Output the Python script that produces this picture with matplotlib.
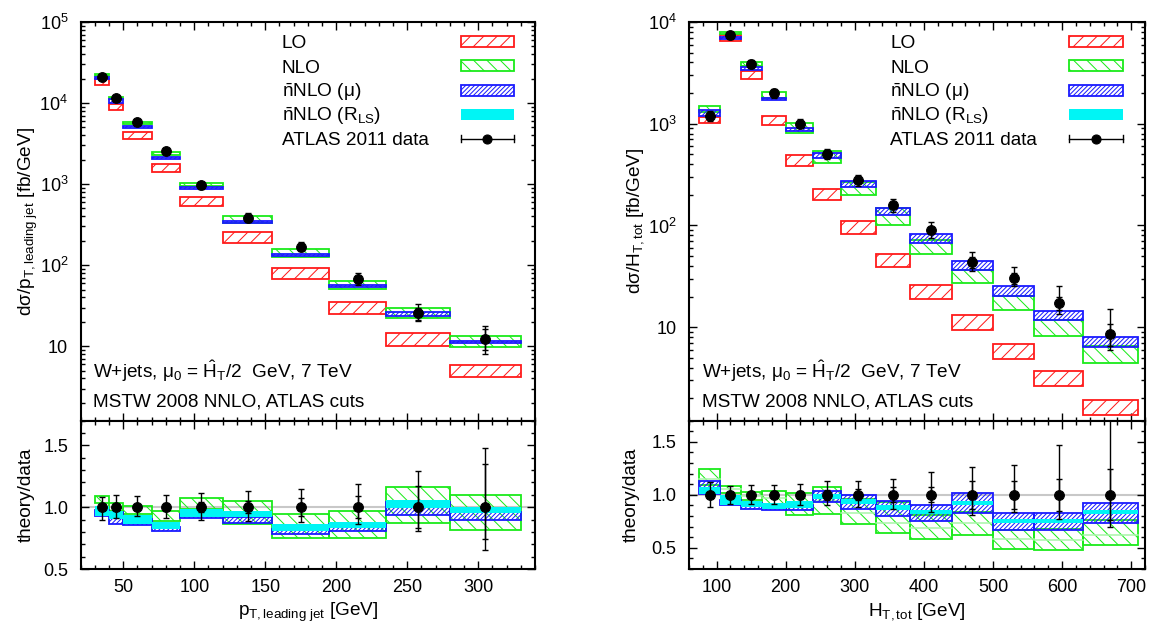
import numpy as np
import matplotlib
matplotlib.use('Agg')
import matplotlib.pyplot as plt
from matplotlib.patches import Rectangle
from matplotlib.ticker import MultipleLocator, FixedLocator, FixedFormatter, NullFormatter, LogLocator

DPI = 80
P = 100.0 / DPI  # keeps pixel sizes as designed at 100 dpi

plt.rcParams['font.family'] = ['Liberation Sans', 'DejaVu Sans']
plt.rcParams['mathtext.fontset'] = 'custom'
plt.rcParams['mathtext.rm'] = 'Liberation Sans'
plt.rcParams['mathtext.it'] = 'Liberation Sans:italic'
plt.rcParams['mathtext.bf'] = 'Liberation Sans:bold'
plt.rcParams['hatch.linewidth'] = 0.9

# ---------------- Left: leading jet pT ----------------
pt_edges = [30, 40, 50, 70, 90, 120, 155, 195, 235, 280, 330]
pt_data = [21100, 11600, 5800, 2550, 964, 384, 168, 66.5, 25.3, 12.1]
pt_err_hi = [0.08, 0.095, 0.086, 0.10, 0.116, 0.13, 0.15, 0.19, 0.295, 0.48]
pt_err_lo = [0.10, 0.086, 0.073, 0.084, 0.10, 0.116, 0.12, 0.14, 0.195, 0.26]
pt_stat = [0.02, 0.025, 0.025, 0.03, 0.04, 0.05, 0.07, 0.09, 0.17, 0.345]
pt_lo_low = [16550, 8260, 3630, 1394, 540, 189, 66.5, 24.8, 10.1, 4.11]
pt_lo_high = [19800, 9800, 4420, 1766, 698, 253, 91, 34.9, 14.4, 5.94]
pt_nlo_low = [1.03, 0.97, 0.943, 0.89, 0.986, 0.865, 0.75, 0.754, 0.87, 0.816]
pt_nlo_high = [1.09, 1.035, 1.013, 0.968, 1.076, 1.046, 0.943, 0.968, 1.162, 1.10]
pt_mu_low = [0.93, 0.865, 0.857, 0.805, 0.914, 0.87, 0.78, 0.81, 0.94, 0.897]
pt_mu_high = [0.98, 0.96, 0.905, 0.84, 0.946, 0.92, 0.825, 0.865, 1.04, 0.96]
pt_rls_low = [0.93, 0.905, 0.865, 0.82, 0.92, 0.92, 0.81, 0.83, 0.99, 0.95]
pt_rls_high = [1.01, 0.97, 0.94, 0.88, 0.986, 0.97, 0.865, 0.88, 1.06, 1.0]

# ---------------- Right: HT,tot ----------------
ht_edges = [75, 105, 135, 165, 200, 240, 280, 330, 380, 440, 500, 560, 630, 710]
ht_data = [1200, 7450, 3900, 1990, 1000, 500, 277, 158, 90, 43.6, 30.4, 17.4, 8.6]
ht_err_hi = [0.12, 0.079, 0.088, 0.094, 0.104, 0.129, 0.132, 0.15, 0.21, 0.264, 0.283, 0.465, 0.75]
ht_err_lo = [0.116, 0.088, 0.091, 0.091, 0.10, 0.10, 0.116, 0.132, 0.164, 0.189, 0.164, 0.226, 0.30]
ht_stat = [0.03, 0.03, 0.03, 0.035, 0.04, 0.045, 0.05, 0.07, 0.07, 0.13, 0.13, 0.15, 0.24]
ht_lo_low = [1016, 6500, 2750, 980, 387, 177, 83, 39, 19.1, 9.45, 4.9, 2.62, 1.36]
ht_lo_high = [1164, 7520, 3275, 1190, 489, 230, 110, 52, 26.2, 13.1, 6.88, 3.67, 1.94]
ht_nlo_low = [1.088, 1.02, 0.947, 0.906, 0.805, 0.814, 0.726, 0.64, 0.585, 0.623, 0.49, 0.475, 0.522]
ht_nlo_high = [1.245, 1.079, 1.03, 1.038, 1.019, 1.072, 0.956, 0.93, 0.805, 0.836, 0.664, 0.68, 0.758]
ht_nlo_cen = [1.15, 1.05, 0.99, 0.97, 0.91, 0.94, 0.83, 0.736, 0.69, 0.736, 0.585, 0.57, 0.616]
ht_mu_low = [1.003, 0.906, 0.868, 0.855, 0.852, 0.93, 0.865, 0.80, 0.755, 0.83, 0.67, 0.67, 0.736]
ht_mu_high = [1.126, 0.946, 0.925, 0.906, 0.90, 1.031, 0.994, 0.937, 0.906, 1.019, 0.827, 0.827, 0.925]
ht_rls_low = [1.01, 0.906, 0.884, 0.868, 0.874, 0.962, 0.915, 0.852, 0.815, 0.906, 0.736, 0.736, 0.815]
ht_rls_high = [1.07, 1.0, 0.937, 0.925, 0.937, 1.006, 0.962, 0.90, 0.852, 0.937, 0.767, 0.767, 0.852]

legend_labels = ['LO', 'NLO', r'$\bar{\mathrm{n}}$NLO (μ)',
                 r'$\bar{\mathrm{n}}$NLO (R$_{\mathrm{LS}}$)', 'ATLAS 2011 data']
info1 = r'W+jets, μ$_0$ = $\hat{\mathrm{H}}_{\mathrm{T}}$/2  GeV, 7 TeV'
info2 = 'MSTW 2008 NNLO, ATLAS cuts'

RED = '#ff1a1a'
GREEN = '#1aeb1a'
BLUE = '#1a1aff'
CYAN = '#00f5f5'
H_LO, H_NLO, H_MU = '//', '\\\\', '//////'
FS_TICK = 13 * P
FS = 13.7 * P
LW = 1.3 * P
MS = 7 * P

W, H = 1151, 628
fig = plt.figure(figsize=(W / DPI, H / DPI), dpi=DPI)


def fx(px):
    return px / W


def fy(py):
    return 1 - py / H


def make_axes(x0, x1):
    ax_top = fig.add_axes([fx(x0), fy(420.5), fx(x1 - x0), (420.5 - 22) / H])
    ax_bot = fig.add_axes([fx(x0), fy(569), fx(x1 - x0), (569 - 420.5) / H])
    for a in (ax_top, ax_bot):
        for s in a.spines.values():
            s.set_linewidth(1.5 * P)
        a.tick_params(which='both', direction='in', top=True, right=True,
                      labelsize=FS_TICK, width=1.0 * P)
        a.tick_params(which='major', length=5.5 * P)
        a.tick_params(which='minor', length=3 * P)
        a.tick_params(axis='y', pad=9 * P)
        a.tick_params(axis='x', pad=7 * P)
    return ax_top, ax_bot


def boxes(ax, edges, low, high, **kw):
    e = np.asarray(edges, float)
    low = np.asarray(low, float)
    high = np.asarray(high, float)
    ax.bar(e[:-1], high - low, width=np.diff(e), bottom=low, align='edge', **kw)


def draw_panel(ax_top, ax_bot, edges, data, ehi, elo, stat, lo_low, lo_high,
               nlo_low, nlo_high, mu_low, mu_high, rls_low, rls_high, nlo_cen=None):
    e = np.asarray(edges, float)
    xc = 0.5 * (e[:-1] + e[1:])
    d = np.asarray(data, float)
    ehi = np.asarray(ehi); elo = np.asarray(elo); st = np.asarray(stat)
    eb = dict(elinewidth=1 * P, capsize=2.5 * P, capthick=1 * P, zorder=10)
    # top
    boxes(ax_top, edges, lo_low, lo_high, facecolor='none', edgecolor=RED,
          hatch=H_LO, linewidth=LW, zorder=2)
    boxes(ax_top, edges, d * np.asarray(nlo_low), d * np.asarray(nlo_high),
          facecolor='none', edgecolor=GREEN, hatch=H_NLO, linewidth=LW, zorder=3)
    boxes(ax_top, edges, d * np.asarray(mu_low), d * np.asarray(mu_high),
          facecolor='none', edgecolor=BLUE, hatch=H_MU, linewidth=LW, zorder=4)
    ax_top.errorbar(xc, d, yerr=[d * elo, d * ehi], fmt='o', color='k', ms=MS, **eb)
    ax_top.errorbar(xc, d, yerr=d * st, fmt='none', ecolor='k', **eb)
    # bottom
    ax_bot.axhline(1.0, color='#c8c8c8', lw=1.5 * P, zorder=1)
    boxes(ax_bot, edges, nlo_low, nlo_high, facecolor='none', edgecolor=GREEN,
          hatch=H_NLO, linewidth=LW, zorder=2)
    if nlo_cen is not None:
        for i in range(len(xc)):
            ax_bot.plot([e[i], e[i + 1]], [nlo_cen[i]] * 2, color='#a8f5a8',
                        lw=1.1 * P, zorder=2.5)
    boxes(ax_bot, edges, mu_low, mu_high, facecolor='none', edgecolor=BLUE,
          hatch=H_MU, linewidth=LW, zorder=3)
    boxes(ax_bot, edges, rls_low, rls_high, facecolor=CYAN, edgecolor='none',
          linewidth=0, zorder=4)
    ones = np.ones_like(d)
    ax_bot.errorbar(xc, ones, yerr=[elo, ehi], fmt='o', color='k', ms=MS, **eb)
    ax_bot.errorbar(xc, ones, yerr=st, fmt='none', ecolor='k', **eb)


def legend(ax, xtext, xb0, xb1, x0px, widthpx):
    rows = [41.7 + 24.2 * i for i in range(5)]
    ha = 398.5
    def ay(py):
        return 1 - (py - 22) / ha
    def ax_(px):
        return (px - x0px) / widthpx
    for lab, r in zip(legend_labels, rows):
        ax.text(ax_(xtext), ay(r + 6.8), lab, transform=ax.transAxes,
                fontsize=FS, ha='left', va='baseline')
    specs = [(RED, H_LO, False), (GREEN, H_NLO, False), (BLUE, H_MU, False), (CYAN, None, True)]
    bx0, bx1 = ax_(xb0), ax_(xb1)
    hh = 11 / ha
    for (c, h, filled), r in zip(specs, rows[:4]):
        if filled:
            rect = Rectangle((bx0, ay(r) - hh / 2), bx1 - bx0, hh, transform=ax.transAxes,
                             facecolor=c, edgecolor='none', zorder=5)
        else:
            rect = Rectangle((bx0, ay(r) - hh / 2), bx1 - bx0, hh, transform=ax.transAxes,
                             facecolor='none', edgecolor=c, hatch=h, lw=LW, zorder=5)
        ax.add_patch(rect)
    yd = ay(rows[4])
    cap = 3.5 / ha
    kw = dict(color='k', lw=1 * P, transform=ax.transAxes)
    ax.plot([bx0, bx1], [yd, yd], **kw)
    ax.plot([bx0, bx0], [yd - cap, yd + cap], **kw)
    ax.plot([bx1, bx1], [yd - cap, yd + cap], **kw)
    ax.plot([(bx0 + bx1) / 2], [yd], 'o', color='k', ms=6.5 * P, transform=ax.transAxes)


def info(ax, x0px, widthpx):
    ha = 398.5
    xx = 12.6 / widthpx
    ax.text(xx, 1 - (378.3 - 22) / ha, info1, transform=ax.transAxes, fontsize=FS,
            ha='left', va='baseline')
    ax.text(xx, 1 - (406.7 - 22) / ha, info2, transform=ax.transAxes, fontsize=FS,
            ha='left', va='baseline')


# ---------------- left panel ----------------
L0, L1 = 80.7, 535
axLt, axLb = make_axes(L0, L1)
draw_panel(axLt, axLb, pt_edges, pt_data, pt_err_hi, pt_err_lo, pt_stat,
           pt_lo_low, pt_lo_high, pt_nlo_low, pt_nlo_high, pt_mu_low, pt_mu_high,
           pt_rls_low, pt_rls_high)
for a in (axLt, axLb):
    a.set_xlim(20, 340)
    a.xaxis.set_major_locator(MultipleLocator(50))
    a.xaxis.set_minor_locator(MultipleLocator(10))
axLt.set_yscale('log')
axLt.set_ylim(1.21, 1e5)
axLt.yaxis.set_major_locator(FixedLocator([10, 100, 1000, 1e4, 1e5]))
axLt.yaxis.set_major_formatter(FixedFormatter(['10', r'10$^2$', r'10$^3$', r'10$^4$', r'10$^5$']))
axLt.yaxis.set_minor_locator(LogLocator(base=10, subs=np.arange(2, 10), numticks=20))
axLt.yaxis.set_minor_formatter(NullFormatter())
axLt.xaxis.set_major_formatter(NullFormatter())
axLb.set_ylim(0.5, 1.7)
axLb.yaxis.set_major_locator(FixedLocator([0.5, 1.0, 1.5]))
axLb.yaxis.set_major_formatter(FixedFormatter(['0.5', '1.0', '1.5']))
axLb.yaxis.set_minor_locator(MultipleLocator(0.1))
legend(axLt, 281.7, 460.7, 514, L0, L1 - L0)
info(axLt, L0, L1 - L0)

# ---------------- right panel ----------------
R0, R1 = 689, 1145
axRt, axRb = make_axes(R0, R1)
draw_panel(axRt, axRb, ht_edges, ht_data, ht_err_hi, ht_err_lo, ht_stat,
           ht_lo_low, ht_lo_high, ht_nlo_low, ht_nlo_high, ht_mu_low, ht_mu_high,
           ht_rls_low, ht_rls_high, nlo_cen=ht_nlo_cen)
for a in (axRt, axRb):
    a.set_xlim(60, 720)
    a.xaxis.set_major_locator(MultipleLocator(100))
    a.xaxis.set_minor_locator(MultipleLocator(20))
axRt.set_yscale('log')
axRt.set_ylim(1.21, 1e4)
axRt.yaxis.set_major_locator(FixedLocator([10, 100, 1000, 1e4]))
axRt.yaxis.set_major_formatter(FixedFormatter(['10', r'10$^2$', r'10$^3$', r'10$^4$']))
axRt.yaxis.set_minor_locator(LogLocator(base=10, subs=np.arange(2, 10), numticks=20))
axRt.yaxis.set_minor_formatter(NullFormatter())
axRt.xaxis.set_major_formatter(NullFormatter())
axRb.set_ylim(0.3, 1.7)
axRb.yaxis.set_major_locator(FixedLocator([0.5, 1.0, 1.5]))
axRb.yaxis.set_major_formatter(FixedFormatter(['0.5', '1.0', '1.5']))
axRb.yaxis.set_minor_locator(MultipleLocator(0.1))
legend(axRt, 890, 1069.3, 1122.7, R0, R1 - R0)
info(axRt, R0, R1 - R0)

# ---------------- axis labels ----------------
fig.text(fx(28), fy(221), r'dσ/p$_{\mathrm{T,leading\ jet}}$ [fb/GeV]', rotation=90,
         ha='center', va='center', fontsize=FS)
fig.text(fx(26), fy(495), 'theory/data', rotation=90, ha='center', va='center', fontsize=FS)
fig.text(fx(636), fy(221), r'dσ/H$_{\mathrm{T,tot}}$ [fb/GeV]', rotation=90,
         ha='center', va='center', fontsize=FS)
fig.text(fx(631), fy(495), 'theory/data', rotation=90, ha='center', va='center', fontsize=FS)
fig.text(fx((L0 + L1) / 2), fy(612), r'p$_{\mathrm{T,leading\ jet}}$ [GeV]',
         ha='center', va='center', fontsize=FS)
fig.text(fx((R0 + R1) / 2), fy(612), r'H$_{\mathrm{T,tot}}$ [GeV]',
         ha='center', va='center', fontsize=FS)

fig.savefig('out.png', dpi=DPI)
